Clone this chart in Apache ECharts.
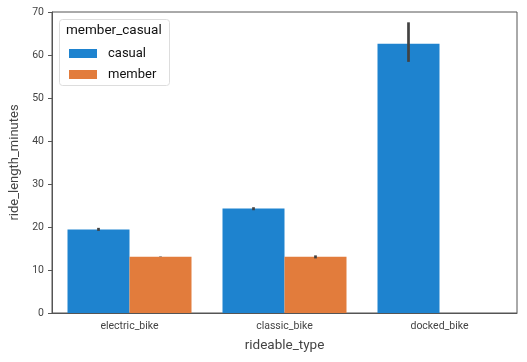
<!DOCTYPE html>
<html><head><meta charset="utf-8">
<script src="https://cdn.jsdelivr.net/npm/echarts@6/dist/echarts.min.js"></script>
<style>html,body{margin:0;padding:0;background:#fff}#c{width:527px;height:362px}</style>
</head><body><div id="c"></div>
<script>
const categories = ['electric_bike', 'classic_bike', 'docked_bike'];
const casual = [19.4, 24.3, 62.6];
const member = [13.1, 13.1, null];
const casualLow = [19.1, 23.9, 58.4];
const casualHigh = [19.8, 24.6, 67.6];
const memberLow = [13.05, 12.7, null];
const memberHigh = [13.15, 13.4, null];
const yTicks = [0, 10, 20, 30, 40, 50, 60, 70];

const font = 'Roboto';
const chart = echarts.init(document.getElementById('c'));

function errSeries(low, high, side) {
  return {
    type: 'custom',
    z: 10,
    silent: true,
    data: categories.map((c, i) => [i, low[i], high[i]]),
    renderItem: function (params, api) {
      const lo = api.value(1), hi = api.value(2);
      if (lo == null || isNaN(lo)) return null;
      const band = api.size([1, 0])[0];
      const p1 = api.coord([api.value(0), lo]);
      const p2 = api.coord([api.value(0), hi]);
      const x = p1[0] + side * band * 0.2;
      return {
        type: 'line',
        shape: { x1: x, y1: p1[1], x2: x, y2: p2[1] },
        style: { stroke: '#424242', lineWidth: 2.7 }
      };
    }
  };
}

chart.setOption({
  animation: false,
  grid: { left: 52, right: 10, top: 12, bottom: 49, show: true, borderColor: '#555', borderWidth: 1, backgroundColor: 'transparent' },
  xAxis: {
    type: 'category',
    data: categories,
    name: 'rideable_type',
    nameLocation: 'middle',
    nameGap: 26,
    nameTextStyle: { fontFamily: font, fontSize: 13.5, color: '#444' },
    axisLine: { lineStyle: { color: '#555', width: 1 } },
    axisTick: { alignWithLabel: true, length: 4, lineStyle: { color: '#555' } },
    axisLabel: { fontFamily: font, fontSize: 10.5, color: '#444', margin: 8 },
    splitLine: { show: false }
  },
  yAxis: {
    type: 'value',
    min: yTicks[0],
    max: yTicks[yTicks.length - 1],
    interval: 10,
    name: 'ride_length_minutes',
    nameLocation: 'middle',
    nameGap: 28,
    nameTextStyle: { fontFamily: font, fontSize: 13, color: '#444' },
    axisLine: { show: true, lineStyle: { color: '#555', width: 1 } },
    axisTick: { show: true, length: 4, lineStyle: { color: '#555' } },
    axisLabel: { fontFamily: font, fontSize: 10.5, color: '#444', margin: 8 },
    splitLine: { show: false }
  },
  legend: {
    left: 64, top: 42,
    z: 100,
    orient: 'vertical',
    itemWidth: 28, itemHeight: 9, itemGap: 8,
    icon: 'rect',
    textStyle: { fontFamily: font, fontSize: 13, color: '#111', lineHeight: 9, padding: [0, 0, 0, 6] },
    data: ['casual', 'member']
  },
  graphic: [
    { type: 'rect', left: 59, top: 19, z: 1, shape: { width: 110, height: 66, r: 3 }, style: { fill: 'rgba(255,255,255,0.8)', stroke: '#ddd', lineWidth: 1 } },
    { type: 'text', left: 66, top: 24, z: 2, style: { text: 'member_casual', font: '13.5px Roboto', fill: '#111' } }
  ],
  series: [
    { name: 'casual', type: 'bar', data: casual, barGap: '0%', barCategoryGap: '20%', itemStyle: { color: '#1e83cf' } },
    { name: 'member', type: 'bar', data: member, barGap: '0%', barCategoryGap: '20%', itemStyle: { color: '#e27c3c' } },
    errSeries(casualLow, casualHigh, -1),
    errSeries(memberLow, memberHigh, 1)
  ]
});
</script></body></html>
